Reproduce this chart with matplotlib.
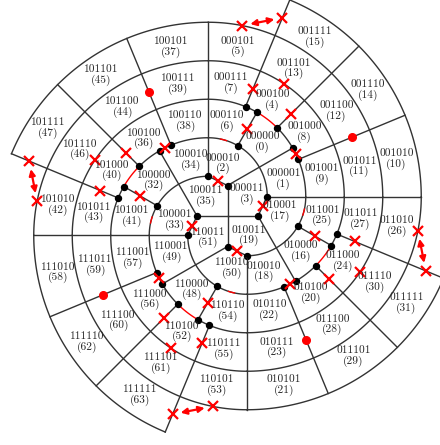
import numpy as np
import matplotlib.pyplot as plt

# cell numbers of each quadrant (prefix 00, 10, 11, 01), listed slot by slot;
# the quadrants follow each other a quarter turn apart, counter-clockwise
CELLS_00 = [10, 14, 15, 11, 12, 13, 5, 9, 8, 4, 7, 1, 0, 6, 2, 3]
CELLS_10 = [37, 45, 47, 39, 44, 46, 42, 38, 36, 40, 43, 34, 32, 41, 33, 35]
CELLS_11 = [58, 62, 63, 59, 60, 61, 53, 57, 56, 52, 55, 49, 48, 54, 50, 51]
CELLS_01 = [21, 29, 31, 23, 28, 30, 26, 22, 20, 24, 27, 18, 16, 25, 17, 19]
QUADRANTS = [CELLS_00, CELLS_10, CELLS_11, CELLS_01]

# where each slot's label sits in the quadrant's own polar frame
SLOT_R = [192, 192, 192, 154, 154, 154, 153, 116, 116, 116, 116, 77, 77, 78, 36, 39]
SLOT_A = [11.25, 33.75, 56.25, 11.25, 33.75, 56.25, 78.75,
          11.25, 33.75, 56.25, 78.75, 13, 45, 76, 66, 3.6]

# ring layout: every quadrant is a set of quarter circles round its own pole,
# the four poles sit on a square one ring wide, so the rings join up as a spiral
WIDTH = 38.5
RADII = 59 + WIDTH * np.arange(5)
ARM = 30.5                       # half length of the little cross in the middle
MID = (227.5, 216.0)             # middle of the pinwheel, pixels
POLE = np.array([-WIDTH / 2, WIDTH / 2])

# spokes (r0, a0, r1, a1), arcs (ring, a0, a1) and markers of one quadrant
SPOKES = [(RADII[0], 0, RADII[4], 0),
          (RADII[1], 22.5, RADII[4], 22.5),
          (RADII[1], 45, RADII[4], 45),
          (RADII[1], 67.5, RADII[4], 67.5),
          (RADII[0], 60, RADII[1], 60)]
ARCS = [(0, 0, 90), (1, 0, 45), (1, 60, 90), (2, 0, 90), (3, 0, 90), (4, 0, 67.5)]
RED_ARCS = [(1, 45, 60), (0, 72, 78)]
DOTS_R = [RADII[0], RADII[0], RADII[1], RADII[1], RADII[1], RADII[1], RADII[1]]
DOTS_A = [0, 60, 22.5, 30, 45, 60, 67.5]
CUTS_R = [(RADII[0] + RADII[1]) / 2, RADII[1], (RADII[1] + RADII[2]) / 2,
          (RADII[1] + RADII[2]) / 2, RADII[2], RADII[3], (RADII[3] + RADII[4]) / 2]
CUTS_A = [60, 26.25, 45, 67.5, 56.25, 78.75, 67.5]
SPOT = ((RADII[2] + RADII[3]) / 2, 22.5)

LINE = "#333333"


def frame(r, a):
    t = np.radians(np.atleast_1d(a))
    r = np.broadcast_to(r, t.shape)
    return POLE + np.c_[r * np.cos(t), r * np.sin(t)]


def turn(p, k):
    p = np.atleast_2d(np.asarray(p, dtype=float))
    c, s = round(np.cos(k * np.pi / 2)), round(np.sin(k * np.pi / 2))
    x = MID[0] + c * p[:, 0] - s * p[:, 1]
    y = MID[1] - (s * p[:, 0] + c * p[:, 1])
    return x, y


fig = plt.figure(figsize=(4.4, 4.45), dpi=100)
ax = fig.add_axes([0, 0, 1, 1])
ax.set_xlim(0, 440)
ax.set_ylim(445, 0)
ax.axis("off")

for k, cells in enumerate(QUADRANTS):
    tip = np.array([ARM, 0.0])
    start = frame(RADII[0], 0)[0]

    # arm of the middle cross and the short link to the first ring
    ax.plot(*turn([[0, 0], tip], k), color=LINE, lw=1.0, zorder=1)
    ax.plot(*turn([start, tip], k), color=LINE, lw=1.0, zorder=1)
    ax.plot(*turn([[0, ARM], frame(RADII[1], 30)[0]], k), color=LINE, lw=1.0, zorder=1)

    for r0, a0, r1, a1 in SPOKES:
        ax.plot(*turn(np.r_[frame(r0, a0), frame(r1, a1)], k), color=LINE, lw=1.0, zorder=1)

    for i, a0, a1 in ARCS:
        ax.plot(*turn(frame(RADII[i], np.linspace(a0, a1, 80)), k),
                color=LINE, lw=1.0, zorder=1)
    for i, a0, a1 in RED_ARCS:
        ax.plot(*turn(frame(RADII[i], np.linspace(a0, a1, 30)), k),
                color="red", lw=1.0, zorder=2)

    # nodes
    ax.plot(*turn(np.r_[frame(DOTS_R, DOTS_A), [tip]], k), "o", color="black",
            ms=4.3, zorder=3)

    # cut marks
    cuts = np.r_[frame(CUTS_R, CUTS_A), [(start + tip) / 2]]
    ax.plot(*turn(cuts, k), "x", color="red", ms=6.5, mew=1.6, zorder=4)
    ax.plot(*turn(frame(*SPOT), k), "o", color="red", ms=5.5, zorder=4)

    # arrow between the two cuts on the outer step
    x, y = turn(np.r_[frame(CUTS_R[5], CUTS_A[5]), frame(CUTS_R[6], CUTS_A[6])], k)
    p0 = (x[0] + 0.2 * (x[1] - x[0]), y[0] + 0.2 * (y[1] - y[0]))
    p1 = (x[0] + 0.8 * (x[1] - x[0]), y[0] + 0.8 * (y[1] - y[0]))
    ax.annotate("", xy=p1, xytext=p0,
                arrowprops=dict(arrowstyle="<|-|>", color="red", lw=1.6,
                                mutation_scale=9, shrinkA=0, shrinkB=0),
                zorder=4)

    # cell labels
    for n, r, a in zip(cells, SLOT_R, SLOT_A):
        x, y = turn(frame(r, a), k)
        ax.text(x[0], y[0], f"{n:06b}\n({n})", family="cmr10", fontsize=8.2,
                color="#262626", ha="center", va="center", linespacing=1.05,
                zorder=5)

fig.savefig("out.png", dpi=100)
